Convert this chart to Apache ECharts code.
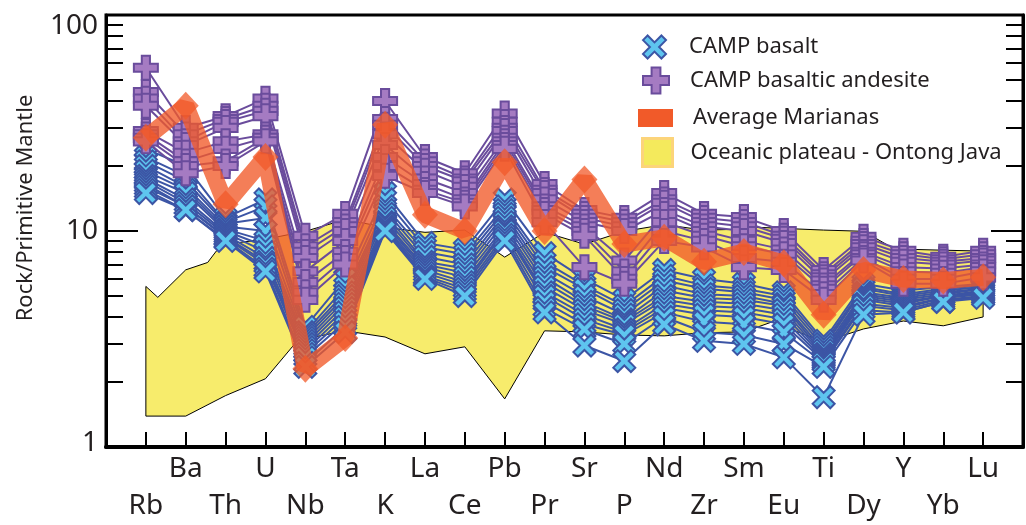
<!DOCTYPE html>
<html><head><meta charset="utf-8">
<script src="https://cdn.jsdelivr.net/npm/echarts@6/dist/echarts.min.js"></script>
<style>html,body{margin:0;padding:0;background:#fff}#c{width:1026px;height:525px}</style>
</head><body><div id="c"></div>
<script>
const elements = ['Rb','Ba','Th','U','Nb','Ta','K','La','Ce','Pb','Pr','Sr','P','Nd','Zr','Sm','Eu','Ti','Dy','Y','Yb','Lu'];
const yTickLabels = [1, 10, 100];

// CAMP basalt samples (Rock / Primitive Mantle)
const basalt01 = [24, 20, 11.5, 14, 3.6, 6.0, 15, 8.8, 8.2, 14, 7.9, 6.0, 4.8, 6.6, 6.0, 5.7, 5.2, 3.1, 5.7, 5.3, 5.5, 5.7];
const basalt02 = [22, 18, 11, 13, 3.4, 5.5, 14, 8.4, 7.8, 13, 7.2, 5.6, 4.5, 6.2, 5.6, 5.4, 5.0, 3.0, 5.5, 5.1, 5.4, 5.6];
const basalt03 = [21, 17, 10.8, 11.5, 3.3, 5.2, 13, 8.0, 7.4, 12.5, 6.8, 5.4, 4.3, 5.9, 5.4, 5.2, 4.8, 2.9, 5.4, 5.0, 5.3, 5.5];
const basalt04 = [20, 16, 10.5, 10, 3.2, 5.0, 12.5, 7.6, 7.0, 12, 6.4, 5.0, 4.1, 5.6, 5.1, 5.0, 4.6, 2.8, 5.2, 4.9, 5.2, 5.4];
const basalt05 = [19, 15.5, 10.2, 9, 3.1, 4.8, 12, 7.2, 6.7, 11.5, 6.1, 4.7, 3.9, 5.3, 4.9, 4.8, 4.5, 2.7, 5.1, 4.8, 5.1, 5.4];
const basalt06 = [18, 15, 10, 8.5, 3.0, 4.6, 11.5, 7.0, 6.4, 11, 5.8, 4.5, 3.8, 5.0, 4.7, 4.6, 4.3, 2.65, 5.0, 4.7, 5.0, 5.3];
const basalt07 = [17.5, 14, 9.8, 8, 2.9, 4.4, 11, 6.8, 6.1, 10.5, 5.5, 4.3, 3.7, 4.8, 4.5, 4.4, 4.1, 2.6, 4.9, 4.6, 5.0, 5.2];
const basalt08 = [17, 13.5, 9.6, 7.5, 2.8, 4.2, 10.8, 6.6, 5.8, 10.2, 5.2, 4.1, 3.5, 4.6, 4.3, 4.2, 3.9, 2.55, 4.8, 4.5, 4.9, 5.2];
const basalt09 = [16.5, 13, 9.4, 7.2, 2.7, 4.0, 10.5, 6.4, 5.6, 10, 5.0, 3.9, 3.4, 4.4, 4.1, 4.0, 3.7, 2.5, 4.6, 4.4, 4.9, 5.1];
const basalt10 = [16, 13, 9.3, 7, 2.6, 3.8, 10.3, 6.2, 5.4, 9.6, 4.7, 3.7, 3.3, 4.2, 3.8, 3.7, 3.4, 2.45, 4.5, 4.3, 4.8, 5.0];
const basalt11 = [15.5, 12.5, 9.1, 6.7, 2.45, 3.6, 10.1, 6.1, 5.2, 9.3, 4.4, 3.5, 3.0, 4.0, 3.4, 3.3, 3.0, 2.35, 4.3, 4.2, 4.7, 5.0];
const basalt12 = [15, 12.5, 9, 6.5, 2.35, 3.4, 10, 6.0, 5.0, 9.0, 4.2, 2.95, 2.5, 3.7, 3.1, 3.0, 2.6, 1.7, 4.1, 4.2, 4.7, 4.9];

// CAMP basaltic andesite samples
const andesite1 = [57, 30, 34, 41, 9.5, 12, 40, 22, 18.5, 35, 16.5, 12.5, 11.5, 15, 12, 11.6, 10, 6.6, 9.4, 8.1, 7.6, 8.1];
const andesite2 = [44, 28, 33, 38, 8.5, 11, 33, 21, 17.5, 32, 15.5, 12, 11, 14, 11.5, 11, 9.5, 6.3, 9.0, 7.8, 7.4, 7.8];
const andesite3 = [41, 26, 32, 36, 8.0, 10.5, 31, 20, 17, 30, 15, 11.5, 10.5, 13.5, 11, 10.5, 9.2, 6.1, 8.7, 7.5, 7.2, 7.5];
const andesite4 = [38, 25, 30, 34, 7.5, 10, 28, 19, 16, 29, 14, 11, 10, 12.5, 10.5, 10, 8.8, 5.9, 8.4, 7.2, 7.0, 7.3];
const andesite5 = [29, 23, 26, 28, 6.5, 9, 25, 17.5, 15, 27, 13, 10.5, 7.3, 12, 10, 9, 8.2, 5.6, 8.0, 6.8, 6.7, 7.0];
const andesite6 = [28, 21, 24, 27, 5.8, 8, 22, 16.5, 14, 26, 12.5, 10, 6.5, 11, 9.5, 8.5, 7.8, 5.4, 7.8, 6.5, 6.4, 6.8];
const andesite7 = [27, 20, 21, 27, 5.2, 7.5, 20, 15.5, 13.5, 25, 12, 9.5, 6.0, 10, 9, 7.5, 7.2, 5.1, 7.5, 6.0, 6.0, 6.5];
const andesite8 = [26, 18.5, 20, 26, 4.8, 7, 18, 15, 13, 24, 11, 6.8, 5.7, 9, 8.4, 6.8, 6.6, 4.8, 7.3, 5.7, 5.7, 6.1];

// Average Marianas
const marianas = [27, 38, 13.3, 22, 2.3, 3.2, 31, 11.9, 10, 20.8, 10, 17.3, 8.7, 9.3, 7.2, 8.0, 7.1, 4.1, 6.6, 6.0, 5.9, 6.1];

// Oceanic plateau - Ontong Java envelope: [element position, value]
const plateauUpper = [[0,5.54],[0.3,4.93],[1,6.61],[1.55,7.15],[1.77,8.09],[2,8.69],[3,9.16],[4,9.97],[5,11.3],[6,10.4],[7,9.86],[8,10.1],[9,7.57],[10,9.86],[11,8.69],[12,9.97],[13,10.7],[14,10.1],[15,10.2],[15.35,10.4],[17,10.1],[18,9.97],[18.7,8.41],[19,8.24],[20,8.15],[21,8.07]];
const plateauLower = [[0,1.39],[1,1.39],[2,1.73],[3,2.07],[3.7,2.95],[4,3.17],[5,3.45],[6,3.23],[7,2.70],[8,2.91],[9,1.67],[10,3.45],[11,3.41],[12,3.30],[13,3.27],[14,3.38],[15,3.41],[15.7,3.79],[17,3.07],[18,3.52],[19,3.83],[20,3.64],[21,4.00]];

const basaltSamples = [basalt01,basalt02,basalt03,basalt04,basalt05,basalt06,basalt07,basalt08,basalt09,basalt10,basalt11,basalt12];
const andesiteSamples = [andesite1,andesite2,andesite3,andesite4,andesite5,andesite6,andesite7,andesite8];

const FONT = 'Noto Sans';
const TXT = '#231f20';
const xPath = 'path://M0,2L2,0L5,3L8,0L10,2L7,5L10,8L8,10L5,7L2,10L0,8L3,5Z';
const plusPath = 'path://M3.3,0H6.7V3.3H10V6.7H6.7V10H3.3V6.7H0V3.3H3.3Z';
const BLUE_LINE = '#3c55a5', BLUE_FILL = '#5ec5ef';
const PURP_LINE = '#6a4c9c', PURP_FILL = '#a57bc2';
const ORANGE = '#f15a29';

const toPairs = arr => arr.map((v, i) => [i, v]);

const series = [];
series.push({
  name: 'Oceanic plateau - Ontong Java',
  type: 'custom',
  coordinateSystem: 'cartesian2d',
  data: [[0, 1]],
  silent: true,
  z: 1,
  renderItem: function (params, api) {
    const pts = plateauUpper.map(p => api.coord(p))
      .concat(plateauLower.slice().reverse().map(p => api.coord(p)));
    return { type: 'polygon', shape: { points: pts },
      style: { fill: '#f7ec6c', stroke: '#000', lineWidth: 1 } };
  }
});
basaltSamples.forEach(s => series.push({
  name: 'CAMP basalt', type: 'line', data: toPairs(s), z: 2,
  symbol: xPath, symbolSize: 22,
  lineStyle: { color: BLUE_LINE, width: 2 },
  itemStyle: { color: BLUE_FILL, borderColor: BLUE_LINE, borderWidth: 2 },
  emphasis: { disabled: true }, animation: false
}));
andesiteSamples.forEach(s => series.push({
  name: 'CAMP basaltic andesite', type: 'line', data: toPairs(s), z: 3,
  symbol: plusPath, symbolSize: 24,
  lineStyle: { color: PURP_LINE, width: 2 },
  itemStyle: { color: PURP_FILL, borderColor: PURP_LINE, borderWidth: 2 },
  emphasis: { disabled: true }, animation: false
}));
series.push({
  name: 'Average Marianas', type: 'line', data: toPairs(marianas), z: 4,
  symbol: 'diamond', symbolSize: [26, 28],
  lineStyle: { color: ORANGE, width: 17, opacity: 0.78 },
  itemStyle: { color: ORANGE, opacity: 0.75 },
  emphasis: { disabled: true }, animation: false
});

const legendText = (pad) => ({ fontFamily: FONT, fontSize: 22, color: TXT, padding: [0, 0, 0, pad] });
const legends = [
  { top: 34.5, left: 642, itemWidth: 25, itemHeight: 23, pad: 17,
    data: [{ name: 'CAMP basalt', icon: xPath, itemStyle: { color: BLUE_FILL, borderColor: BLUE_LINE, borderWidth: 2 } }] },
  { top: 66.5, left: 642, itemWidth: 26, itemHeight: 27, pad: 16,
    data: [{ name: 'CAMP basaltic andesite', icon: plusPath, itemStyle: { color: PURP_FILL, borderColor: PURP_LINE, borderWidth: 2 } }] },
  { top: 107, left: 638, itemWidth: 35, itemHeight: 18, pad: 15,
    data: [{ name: 'Average Marianas', icon: 'rect', itemStyle: { color: ORANGE, opacity: 1, borderWidth: 0 } }] },
  { top: 137, left: 641, itemWidth: 30, itemHeight: 28, pad: 13,
    data: [{ name: 'Oceanic plateau - Ontong Java', icon: 'rect', itemStyle: { color: '#f4ea5c', borderColor: '#fcd47a', borderWidth: 3 } }] }
].map(l => ({
  top: l.top, left: l.left, orient: 'vertical', padding: 0,
  itemWidth: l.itemWidth, itemHeight: l.itemHeight, selectedMode: false,
  textStyle: Object.assign(legendText(l.pad), { lineHeight: l.itemHeight }),
  data: l.data
}));

const yTickCommon = {
  axisLine: { show: true, onZero: false, lineStyle: { color: '#000', width: 3 } },
  axisTick: { show: true, inside: true, length: 32, lineStyle: { color: '#000', width: 2 } },
  minorTick: { show: true, splitNumber: 9, length: 17, lineStyle: { color: '#000', width: 2 } },
  splitLine: { show: false }, minorSplitLine: { show: false }
};

const chart = echarts.init(document.getElementById('c'), null, { renderer: 'canvas' });
chart.setOption({
  animation: false,
  backgroundColor: '#fff',
  grid: { left: 106, top: 15, width: 929, bottom: 76.5, show: true, borderColor: '#000', borderWidth: 3, backgroundColor: 'rgba(0,0,0,0)' },
  legend: legends,
  xAxis: {
    type: 'value', min: -1, max: 22, interval: 1,
    axisLine: { show: true, onZero: false, lineStyle: { color: '#000', width: 4 } },
    axisTick: { show: true, inside: true, length: 15, lineStyle: { color: '#000', width: 2 } },
    splitLine: { show: false },
    axisLabel: {
      margin: 4, fontFamily: FONT, fontSize: 28, color: TXT, lineHeight: 37,
      formatter: function (v) {
        const i = Math.round(v);
        if (i < 0 || i >= elements.length) return '';
        return i % 2 === 1 ? elements[i] : '\n' + elements[i];
      }
    }
  },
  yAxis: [
    Object.assign({
      type: 'log', logBase: 10, min: yTickLabels[0], max: yTickLabels[yTickLabels.length - 1],
      name: 'Rock/Primitive Mantle', nameLocation: 'middle', nameGap: 69,
      nameTextStyle: { fontFamily: FONT, fontSize: 22, color: TXT, padding: [0, 0, 0, 46] },
      axisLabel: {
        margin: 8, fontFamily: FONT, fontSize: 28, color: TXT,
        formatter: function (v) {
          if (v === yTickLabels[2]) return '{t|' + v + '}';
          if (v === yTickLabels[0]) return '{b|' + v + '}';
          return '{m|' + v + '}';
        },
        rich: {
          t: { fontFamily: FONT, fontSize: 28, color: TXT, padding: [22, 0, 0, 0] },
          b: { fontFamily: FONT, fontSize: 28, color: TXT, padding: [0, 0, 8, 0] },
          m: { fontFamily: FONT, fontSize: 28, color: TXT }
        }
      }
    }, yTickCommon),
    Object.assign({
      type: 'log', logBase: 10, min: yTickLabels[0], max: yTickLabels[yTickLabels.length - 1],
      position: 'right', axisLabel: { show: false }
    }, yTickCommon)
  ],
  series: series
});
</script>
</body></html>
